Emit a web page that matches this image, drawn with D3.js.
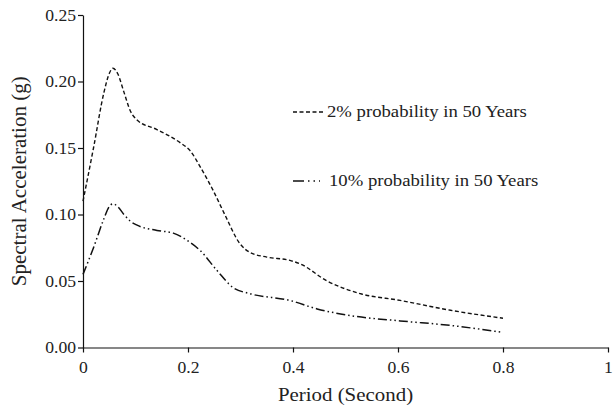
<!DOCTYPE html>
<html>
<head>
<meta charset="utf-8">
<script src="https://cdn.jsdelivr.net/npm/d3@7"></script>
<style>
  body { margin: 0; background: #fff; }
  svg text { font-family: "Liberation Serif", "Times New Roman", serif; fill: #222; }
  .wide { transform-box: fill-box; transform: scaleX(1.1); }
</style>
</head>
<body>
<script>
const width = 615;
const height = 407;

// period (s) and spectral acceleration (g)
const period2 = [0, 0.02, 0.04, 0.05, 0.057, 0.066, 0.078, 0.09, 0.103, 0.14, 0.185, 0.204, 0.223, 0.248, 0.27, 0.299, 0.318, 0.35, 0.394, 0.413, 0.465, 0.528, 0.604, 0.70, 0.80];
const accel2 = [0.11, 0.15, 0.192, 0.206, 0.21, 0.206, 0.192, 0.178, 0.171, 0.164, 0.154, 0.148, 0.136, 0.118, 0.1, 0.078, 0.0715, 0.068, 0.0655, 0.063, 0.05, 0.0405, 0.0354, 0.028, 0.022];

const period10 = [0, 0.02, 0.04, 0.05, 0.057, 0.066, 0.078, 0.09, 0.103, 0.141, 0.172, 0.204, 0.223, 0.255, 0.286, 0.318, 0.394, 0.446, 0.509, 0.604, 0.70, 0.80];
const accel10 = [0.055, 0.075, 0.097, 0.106, 0.108, 0.106, 0.1, 0.095, 0.092, 0.088, 0.086, 0.079, 0.073, 0.058, 0.045, 0.0405, 0.0354, 0.029, 0.024, 0.020, 0.0166, 0.0113];

const xTicks = [0, 0.2, 0.4, 0.6, 0.8, 1];
const xTickLabels = ["0", "0.2", "0.4", "0.6", "0.8", "1"];
const yTicks = [0, 0.05, 0.10, 0.15, 0.20, 0.25];
const yTickLabels = ["0.00", "0.05", "0.10", "0.15", "0.20", "0.25"];

const seriesNames = ["2% probability in 50 Years", "10% probability in 50 Years"];

const x = d3.scaleLinear().domain([0, 1]).range([83, 608]);
const y = d3.scaleLinear().domain([0, 0.25]).range([347.5, 15]);

const svg = d3.select("body")
  .append("svg")
  .attr("width", width)
  .attr("height", height);

// axes
const xAxis = svg.append("g")
  .attr("transform", `translate(0,${y(0)})`)
  .call(d3.axisBottom(x).tickValues(xTicks)
    .tickFormat((d, i) => xTickLabels[i])
    .tickSize(5).tickSizeOuter(0).tickPadding(9));

const yAxis = svg.append("g")
  .attr("transform", `translate(${x(0)},0)`)
  .call(d3.axisLeft(y).tickValues(yTicks)
    .tickFormat((d, i) => yTickLabels[i])
    .tickSize(5).tickSizeOuter(0).tickPadding(2));

svg.selectAll(".domain, .tick line")
  .attr("stroke", "#111")
  .attr("stroke-width", 1.2);

xAxis.selectAll("text")
  .attr("font-size", 16)
  .attr("class", "wide")
  .style("transform-origin", "center");

yAxis.selectAll("text")
  .attr("font-size", 16)
  .attr("class", "wide")
  .style("transform-origin", "right center");

// axis titles
svg.append("text")
  .attr("class", "wide")
  .style("transform-origin", "center")
  .attr("x", (x(0) + x(1)) / 2)
  .attr("y", 401)
  .attr("text-anchor", "middle")
  .attr("font-size", 19)
  .text("Period (Second)");

svg.append("text")
  .attr("transform", `translate(26,${(y(0) + y(0.25)) / 2}) rotate(-90)`)
  .attr("text-anchor", "middle")
  .attr("font-size", 21)
  .text("Spectral Acceleration (g)");

// curves
const line = d3.line()
  .x(d => x(d[0]))
  .y(d => y(d[1]))
  .curve(d3.curveMonotoneX);

const dashStyles = ["4,2.5", "9,3,1.5,3,1.5,3"];

svg.append("path")
  .datum(d3.zip(period2, accel2))
  .attr("d", line)
  .attr("fill", "none")
  .attr("stroke", "#111")
  .attr("stroke-width", 1.4)
  .attr("stroke-dasharray", dashStyles[0]);

svg.append("path")
  .datum(d3.zip(period10, accel10))
  .attr("d", line)
  .attr("fill", "none")
  .attr("stroke", "#111")
  .attr("stroke-width", 1.5)
  .attr("stroke-dasharray", dashStyles[1]);

// legend
const legendY = [112, 181];
const legend = svg.selectAll(".legend")
  .data(seriesNames)
  .enter()
  .append("g")
  .attr("class", "legend")
  .attr("transform", (d, i) => `translate(293,${legendY[i]})`);

legend.append("line")
  .attr("x1", 0)
  .attr("x2", (d, i) => i == 0 ? 32 : 27)
  .attr("y1", 0)
  .attr("y2", 0)
  .attr("stroke", "#111")
  .attr("stroke-width", 1.4)
  .attr("stroke-dasharray", (d, i) => i == 0 ? "4,2.5" : "11,4,1.5,4,1.5,4");

legend.append("text")
  .attr("class", "wide")
  .style("transform-origin", "left center")
  .attr("x", (d, i) => i == 0 ? 34 : 36)
  .attr("y", 5)
  .attr("font-size", 17)
  .text(d => d);
</script>
</body>
</html>
